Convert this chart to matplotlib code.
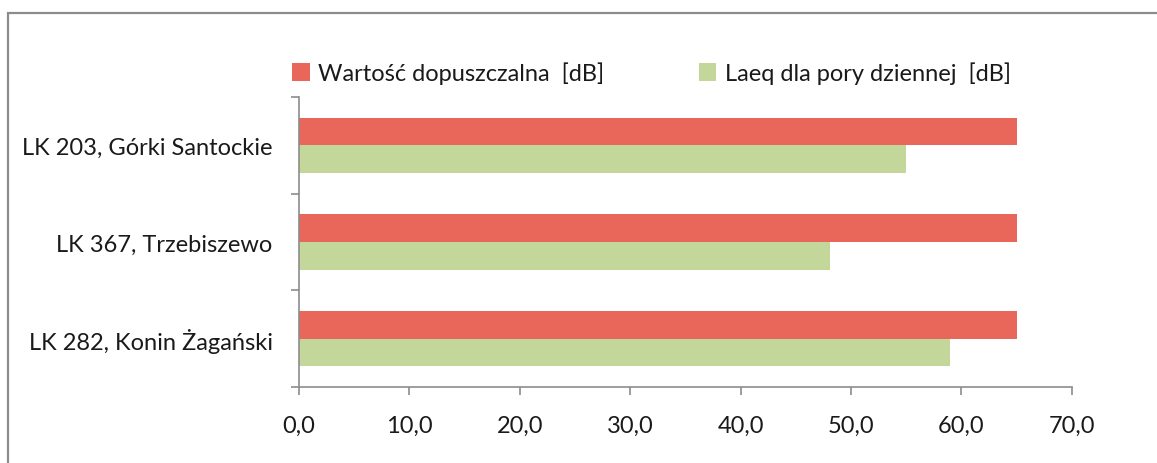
import numpy as np
import matplotlib
matplotlib.use("Agg")
from matplotlib import pyplot as plt
from matplotlib.patches import Rectangle

# Dane pomiarowe
punkty = ["LK 203, Górki Santockie", "LK 367, Trzebiszewo", "LK 282, Konin Żagański"]
dopuszczalna = [65.0, 65.0, 65.0]
laeq_dzien = [55.0, 48.1, 59.0]
opisy = ["Wartość dopuszczalna  [dB]", "Laeq dla pory dziennej  [dB]"]
xticki = [0, 10, 20, 30, 40, 50, 60, 70]

kolorCzerwony = "#e8675a"
kolorZielony = "#c4d79b"
szary = "#8c8c8c"

plt.rcParams["font.family"] = ["Lato", "DejaVu Sans"]

W, H = 1157, 464
fig = plt.figure(figsize=(W / 100, H / 100), dpi=100)
ax = fig.add_axes([299 / W, 1 - 388 / H, (1071.7 - 299) / W, 290 / H])

y = np.arange(len(punkty))
h = 0.285
ax.barh(y - h / 2, dopuszczalna, height=h, color=kolorCzerwony, label=opisy[0])
ax.barh(y + h / 2, laeq_dzien, height=h, color=kolorZielony, label=opisy[1])

ax.set_xlim(0, 70)
ax.set_ylim(len(punkty) - 0.5, -0.5)

ax.set_xticks(xticki)
ax.set_xticklabels([f"{v:.1f}".replace(".", ",") for v in xticki])
ax.set_yticks(y)
ax.set_yticklabels(punkty)
ax.set_yticks(np.arange(len(punkty) + 1) - 0.5, minor=True)

ax.tick_params(axis="x", length=6, width=1.2, color=szary, labelsize=17, pad=14, labelcolor="#1a1a1a")
ax.tick_params(axis="y", which="major", length=0, labelsize=17, pad=19, labelcolor="#1a1a1a")
ax.tick_params(axis="y", which="minor", length=6, width=1.2, color=szary)

for s in ["top", "right"]:
    ax.spines[s].set_visible(False)
for s in ["left", "bottom"]:
    ax.spines[s].set_color(szary)
    ax.spines[s].set_linewidth(1.2)

fig.legend(loc="center left", bbox_to_anchor=(292 / W, 1 - 74 / H), ncol=2,
           frameon=False, fontsize=17, handlelength=0.75, handleheight=0.75,
           handletextpad=0.35, columnspacing=4.0, borderaxespad=0, borderpad=0,
           labelcolor="#1a1a1a")

# ramka wokół wykresu
fig.patches.append(Rectangle((8 / W, -0.1), 1.2, 1.1 - 14 / H, transform=fig.transFigure,
                             fill=False, edgecolor=szary, linewidth=1.6))

fig.savefig("out.png", dpi=100)
